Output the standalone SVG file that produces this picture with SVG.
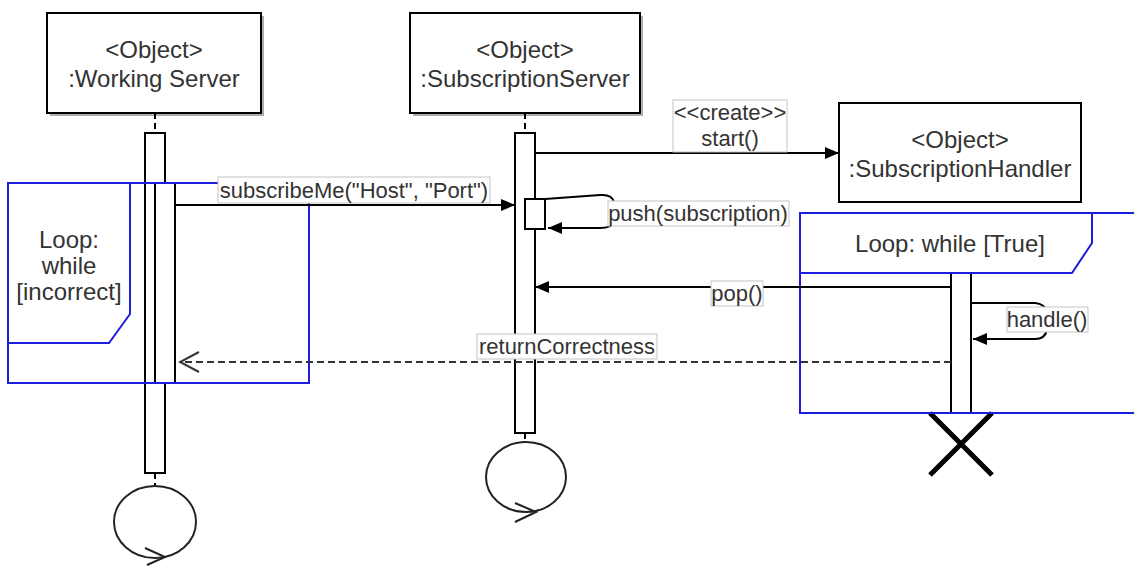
<svg xmlns="http://www.w3.org/2000/svg" width="1134" height="566" viewBox="0 0 1134 566">
  <style>
    text { font-family: "Liberation Sans", Arial, sans-serif; fill: #333333; text-anchor: middle; }
    .obj { font-size: 24px; }
    .lbl { font-size: 22px; }
    .box { fill: #ffffff; stroke: #000000; stroke-width: 2; }
    .shadow { fill: #8a8a8a; opacity: 0.7; }
    .bar { fill: #ffffff; stroke: #000000; stroke-width: 2; }
    .life { stroke: #000000; stroke-width: 2; stroke-dasharray: 6 4; fill: none; }
    .frame { fill: none; stroke: #1c1cdc; stroke-width: 2; }
    .msg { fill: none; stroke: #000000; stroke-width: 2; }
    .ret { fill: none; stroke: #333333; stroke-width: 2; stroke-dasharray: 7 4; }
    .tag { fill: #ffffff; stroke: #c4c4c4; stroke-width: 1; }
    .loopmark { fill: none; stroke: #222222; stroke-width: 2; }
  </style>
  <defs>
    <marker id="solid" markerUnits="userSpaceOnUse" markerWidth="16" markerHeight="14" refX="14" refY="6" orient="auto">
      <path d="M0,0 L14,6 L0,12 Z" fill="#000000"/>
    </marker>
    <marker id="open" markerUnits="userSpaceOnUse" markerWidth="22" markerHeight="24" refX="20" refY="11" orient="auto">
      <path d="M1,1 L20,11 L1,21" fill="none" stroke="#333333" stroke-width="2"/>
    </marker>
  </defs>

  <!-- object: Working Server -->
  <g id="working-server">
    <rect class="shadow" x="50" y="16" width="214" height="100"/>
    <rect class="box" x="47" y="13" width="214" height="100"/>
    <text class="obj" x="154" y="58">&lt;Object&gt;</text>
    <text class="obj" x="154" y="87">:Working Server</text>
    <line class="life" x1="155" y1="113" x2="155" y2="133"/>
    <rect class="bar" x="145" y="133" width="20" height="340"/>
    <rect class="bar" x="155" y="183" width="20" height="200"/>
    <line class="life" x1="155" y1="473" x2="155" y2="487"/>
    <ellipse class="loopmark" cx="155" cy="522" rx="41" ry="36"/>
    <path class="loopmark" d="M145,548 L165,557 L147,565"/>
  </g>

  <!-- object: SubscriptionServer -->
  <g id="subscription-server">
    <rect class="shadow" x="413" y="16" width="230" height="100"/>
    <rect class="box" x="410" y="13" width="230" height="100"/>
    <text class="obj" x="525" y="58">&lt;Object&gt;</text>
    <text class="obj" x="525" y="87">:SubscriptionServer</text>
    <line class="life" x1="525" y1="113" x2="525" y2="133"/>
    <rect class="bar" x="515" y="133" width="20" height="300"/>
    <rect class="bar" x="525" y="199" width="20" height="30"/>
    <line class="life" x1="525" y1="433" x2="525" y2="442"/>
    <ellipse class="loopmark" cx="526" cy="477" rx="40" ry="35"/>
    <path class="loopmark" d="M515,503 L536,512 L515,522"/>
  </g>

  <!-- object: SubscriptionHandler -->
  <g id="subscription-handler">
    <rect class="box" x="839" y="103" width="242" height="99"/>
    <text class="obj" x="960" y="148">&lt;Object&gt;</text>
    <text class="obj" x="960" y="177">:SubscriptionHandler</text>
    <rect class="bar" x="951" y="273" width="20" height="140"/>
    <path d="M930,413 L992,475 M992,413 L930,475" stroke="#000000" stroke-width="5" fill="none"/>
  </g>

  <!-- combined fragment: loop while incorrect -->
  <g id="loop-incorrect">
    <rect class="frame" x="8" y="183" width="301" height="200"/>
    <path class="frame" d="M8,183 H130 V314 L109,343 H8 Z"/>
    <text class="obj" x="69" y="248">Loop:</text>
    <text class="obj" x="69" y="274">while</text>
    <text class="obj" x="69" y="300">[incorrect]</text>
  </g>

  <!-- combined fragment: loop while true -->
  <g id="loop-true">
    <rect class="frame" x="800" y="213" width="345" height="200"/>
    <path class="frame" d="M800,213 H1092 V243 L1072,273 H800 Z"/>
    <text class="obj" x="950" y="252">Loop: while [True]</text>
  </g>

  <!-- messages -->
  <g id="connectors">
    <line class="msg" x1="535" y1="153" x2="839" y2="153" marker-end="url(#solid)"/>
    <rect class="tag" x="673" y="100" width="114" height="52"/>
    <text class="lbl" x="730" y="120">&lt;&lt;create&gt;&gt;</text>
    <text class="lbl" x="730" y="146">start()</text>

    <line class="msg" x1="175" y1="205" x2="515" y2="205" marker-end="url(#solid)"/>
    <rect class="tag" x="218" y="177" width="272" height="26"/>
    <text class="lbl" x="354" y="198">subscribeMe("Host", "Port")</text>

    <path class="msg" d="M545,199 L600,195 Q612,194 614,202 V222 Q612,228 600,228 L548,228" marker-end="url(#solid)"/>
    <rect class="tag" x="608" y="201" width="181" height="25"/>
    <text class="lbl" x="698" y="221">push(subscription)</text>

    <line class="msg" x1="951" y1="287" x2="535" y2="287" marker-end="url(#solid)"/>
    <rect class="tag" x="711" y="281" width="52" height="25"/>
    <text class="lbl" x="737" y="301">pop()</text>

    <path class="msg" d="M971,303 L1035,303 Q1045,304 1047,312 V330 Q1045,339 1035,339 L973,339" marker-end="url(#solid)"/>
    <rect class="tag" x="1007" y="307" width="81" height="25"/>
    <text class="lbl" x="1047" y="327">handle()</text>

    <line class="ret" x1="951" y1="362" x2="180" y2="362" marker-end="url(#open)"/>
    <rect class="tag" x="477" y="334" width="180" height="25"/>
    <text class="lbl" x="567" y="354">returnCorrectness</text>
  </g>
</svg>
